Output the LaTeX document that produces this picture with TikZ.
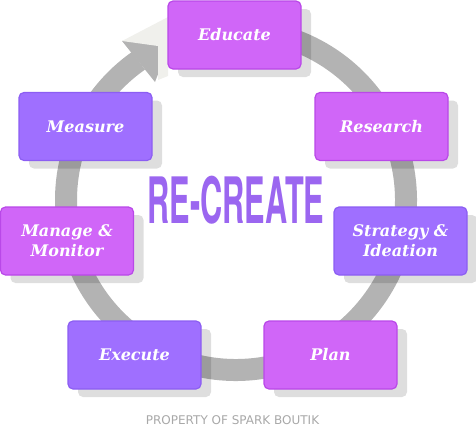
\documentclass[tikz,border=0pt]{standalone}
\usepackage{fontspec}
\usetikzlibrary{shadows,calc}
\newfontfamily\boxfont{DejaVu Serif}
\newfontfamily\titlefont{TeX Gyre Heros}
\newfontfamily\notefont{DejaVu Sans}
\definecolor{ringgray}{RGB}{179,179,179}
\definecolor{magfill}{RGB}{208,102,248}
\definecolor{magline}{RGB}{185,72,232}
\definecolor{vioFill}{RGB}{159,111,255}
\definecolor{vioLine}{RGB}{140,94,242}
\definecolor{titlecol}{RGB}{155,102,240}
\definecolor{notecol}{RGB}{168,168,168}
\definecolor{stipple}{RGB}{240,240,236}
\tikzset{
  stagebox/.style={rounded corners=5pt, minimum width=133pt, minimum height=68pt,
    line width=1.2pt, align=center, text=white, inner sep=0pt,
    font=\boxfont\bfseries\itshape\fontsize{16}{20}\selectfont,
    drop shadow={shadow xshift=10pt, shadow yshift=-8pt, opacity=0.13, fill=black}},
  magbox/.style={stagebox, fill=magfill, draw=magline},
  viobox/.style={stagebox, fill=vioFill, draw=vioLine},
  ring/.style={draw=ringgray, line width=22pt},
}
\begin{document}
\begin{tikzpicture}[x=1pt, y=-1pt]
\useasboundingbox (0,0) rectangle (476,426);
\coordinate (C) at (236,200);
% ring
\draw[ring] ($(C)+(-95:170)$) arc[start angle=-95, end angle=235, radius=170];
\coordinate (b1) at (122,41);
\coordinate (b2) at (155,82);
\coordinate (tip) at (172,38);
\fill[ringgray] (b1) -- (tip) -- (b2) -- cycle;
\fill[stipple] (b1) -- (168,17) -- (168,76) -- (158,80) -- (158,46) -- cycle;
% boxes
\node[magbox] (educate) at (234.5,35) {Educate};
\node[magbox] (research) at (381.5,126.5) {Research};
\node[viobox] (strategy) at (400.5,241) {Strategy \&\\Ideation};
\node[magbox] (plan) at (330.5,355) {Plan};
\node[viobox] (execute) at (134.5,355) {Execute};
\node[magbox] (manage) at (67,241) {Manage \&\\Monitor};
\node[viobox] (measure) at (85.5,126.5) {Measure};
% title
\node[anchor=base, inner sep=0pt, text=titlecol, xscale=0.48,
  font=\titlefont\bfseries\fontsize{64}{64}\selectfont] (title) at (236,223) {RE-CREATE};
\node[anchor=base, inner sep=0pt, text=notecol,
  font=\notefont\fontsize{12}{14}\selectfont] (note) at (232.5,424.5) {PROPERTY OF SPARK BOUTIK};
\end{tikzpicture}
\end{document}
